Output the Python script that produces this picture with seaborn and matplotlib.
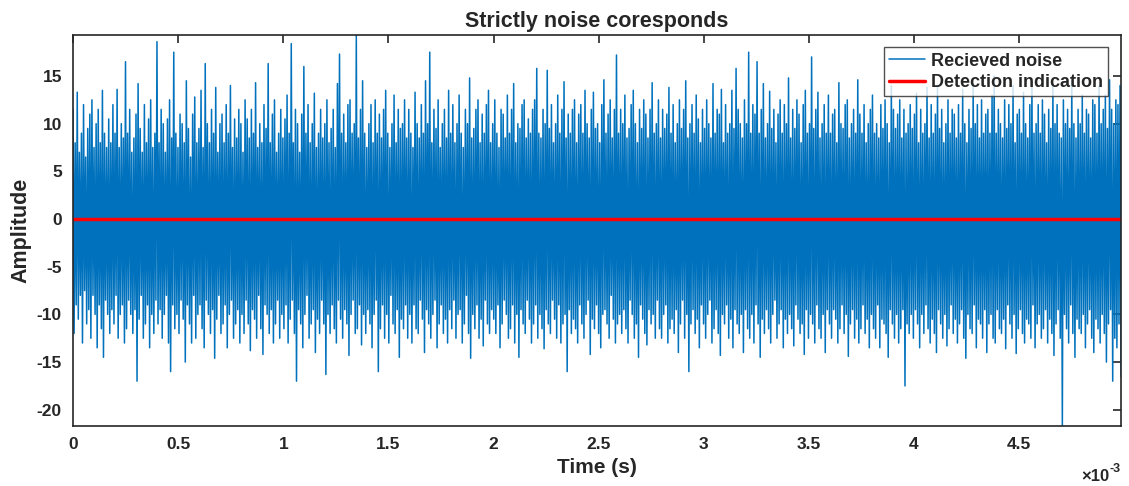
import numpy as np
import pandas as pd
import seaborn as sns
import matplotlib.pyplot as plt
from matplotlib.ticker import MultipleLocator, FuncFormatter

### SIGNAL: upper / lower excursion for each of 500 time slots (0 .. 4.985 ms)
t_end = 4.985e-3
upper = [
    11.5, 8, 13.3, 7, 9, 12, 6.5, 9.5, 11, 12.5, 7.5, 10, 11.5, 8, 13.5, 9, 7.5, 10.5, 8, 12,
    9, 13.6, 7.5, 10, 8.5, 16.5, 9, 11.5, 7, 8.5, 11, 14.2, 9.5, 7, 12, 8, 10.5, 12.5, 7.5, 9,
    18.6, 8, 11.5, 10, 7, 10.5, 12.5, 8.5, 17.5, 9, 7.5, 11, 10, 8, 14.5, 9.5, 6.5, 11, 12.8, 8,
    9.5, 13.5, 7.5, 16.3, 10, 8, 11.5, 9, 13.8, 7, 10, 11, 8, 12, 9, 14, 7.5, 10.5, 8.5, 11.5,
    10, 7, 12.5, 10.5, 8.5, 11.5, 9, 14.3, 7.5, 10, 8, 12, 9.5, 16.3, 8, 11, 12.5, 7, 9, 11.5,
    8.5, 10.5, 13, 9, 18.4, 8, 11.5, 10, 7, 11, 16, 9, 12, 8, 10, 13.2, 7.5, 9, 11.5, 8.5,
    10, 12.5, 8, 9.5, 11.5, 7.5, 14.2, 17.3, 9, 11, 8, 12, 12.5, 9, 10, 19.3, 8.5, 11.5, 14.5, 9,
    7.5, 10, 12, 8, 12.5, 9, 11, 8.5, 11.5, 13.5, 9, 7.5, 10, 13, 8, 11.5, 9.5, 10, 12.5, 8.5,
    11.5, 9, 7.5, 13.3, 10, 8.5, 12, 9, 14.5, 10, 17.5, 8, 11.5, 9.5, 12.5, 7.5, 10, 11.5, 8.5, 13.5,
    9, 12, 8, 10, 13, 9, 7.5, 11.5, 10, 14.8, 8.5, 9.5, 11.5, 12.5, 8, 11, 9, 12, 13.5, 8,
    10, 12.5, 9, 7.5, 11.5, 11, 8.5, 13, 9, 11.5, 14.2, 8, 10, 9.5, 12, 12.5, 8.5, 10.5, 9, 11.5,
    12.5, 15.8, 9, 8.5, 11.5, 10, 15.6, 9.5, 12, 8, 10, 13, 9, 11.5, 14.4, 8.5, 11, 9, 11.5, 12.5,
    8, 11, 12, 9, 13.5, 10, 8.5, 11.5, 13.3, 9.5, 10, 8, 12, 14.6, 9, 11, 12.5, 8.5, 11.5, 17.2,
    9, 11.5, 10, 13, 8.5, 9.5, 12, 13.5, 10, 8, 11.5, 9.5, 12.5, 11, 8.5, 11.5, 14.3, 9, 10, 12.5,
    8.5, 11.5, 9.5, 11, 13.8, 9, 12, 8, 10, 12.5, 9.5, 11.5, 14.5, 8.5, 10, 12, 9, 13, 10.5, 8,
    11.5, 9.5, 12.5, 10, 8.5, 14.2, 9, 11.5, 11, 13.6, 8, 12, 9, 10, 13.5, 9.5, 15.8, 11.5, 10, 8.5,
    12.5, 10, 17.5, 9, 12, 11, 16.5, 9, 11.5, 14.2, 8.5, 10, 13.4, 9.5, 11.5, 8, 11, 12.5, 9, 12,
    10, 14.8, 8.5, 11.5, 9.5, 12.5, 11, 8, 12, 13.5, 9, 10, 17, 9.5, 11.5, 13.3, 8.5, 10, 12, 9,
    13, 9, 11, 11.5, 8, 14.3, 10, 9.5, 12, 12.5, 8.5, 10, 11.5, 9, 14.6, 11, 9, 12, 8, 10,
    11.5, 13, 9, 10, 8.5, 12, 9.5, 12.5, 10, 8, 14, 11.5, 9.5, 11, 12.5, 8.5, 11.5, 9, 10, 12,
    9.5, 11, 13.2, 8, 11.5, 9, 10, 13.8, 8.5, 12, 9, 11, 14, 9.5, 11.5, 8, 10, 12.5, 9, 11.5,
    11, 8.5, 12, 9, 13.6, 10, 8, 11.5, 9.5, 14.2, 10, 12, 8.5, 12.5, 9, 11, 11.5, 9, 13, 15,
    9, 11.5, 10, 8.5, 12.5, 9.5, 12, 10, 14, 8, 11, 11.5, 9, 13.3, 10, 8.5, 12, 14.4, 9, 10,
    12, 9, 12.5, 11, 8, 11.5, 9.5, 14, 10, 12, 9, 8.5, 12.5, 10, 11.5, 9.5, 14.5, 10, 8.5, 11.5,
    10, 13, 9, 11.5, 11, 8.5, 12.5, 12, 9, 14, 10, 11.5, 13, 9.5, 14.6, 11.5, 10, 12.5, 12, 14,
]
lower = [
    -12, -9, -10.5, -8, -13, -7.5, -11, -9.5, -12.5, -8, -10, -13.5, -9, -11.5, -14.5, -8.5, -10, -12, -9.5, -11,
    -8, -12.5, -10, -9, -13, -11.5, -8.5, -10, -12, -9.5, -17, -10.5, -8, -12.5, -11, -9, -13.5, -10, -12, -8.5,
    -11, -9.5, -12.5, -10, -8, -13, -16, -9, -11.5, -10, -12, -8.5, -10.5, -15, -9, -11, -13, -8, -12.5, -10,
    -9, -11.5, -13.5, -8.5, -10, -12, -9.5, -14.6, -10.5, -8, -12, -11, -9, -13.5, -10, -8.5, -12.5, -11, -9.5, -13,
    -10, -12, -8.5, -11, -13.8, -9.5, -10.5, -12.5, -8, -11.5, -14.2, -9, -10, -12, -9.5, -13, -11, -8.5, -12.5, -10,
    -11.5, -9, -13, -10.5, -8.5, -12, -17, -9.5, -11, -13.5, -10, -8, -12.5, -11, -9.5, -14, -10.5, -12, -8.5, -11,
    -16.3, -10, -12, -9, -11.5, -13, -8.5, -10.5, -12.5, -9.5, -11, -14.3, -10, -8.5, -12, -11.5, -9, -13.2, -10, -12,
    -9.5, -11, -13.5, -10, -8.5, -16, -11.5, -9, -12.5, -10, -13, -8, -11, -12, -9.5, -14.5, -10.5, -11.5, -9, -12.5,
    -10, -13, -9, -11.5, -12, -8.5, -10.5, -14, -9.5, -11, -12.5, -10, -8.5, -13.5, -11, -9, -12, -10.5, -13, -9.5,
    -11.5, -8.5, -12.5, -10, -9.5, -13, -11, -8, -12, -14.6, -10, -11.5, -9, -12.5, -10.5, -13.3, -8.5, -11, -12, -9.5,
    -10.5, -12, -9, -13.5, -11, -8.5, -10, -12.5, -11.5, -9, -13, -10, -14.5, -9.5, -11, -12, -8.5, -10.5, -13, -11,
    -9, -12.5, -10, -11.5, -13.6, -9.5, -11, -12, -8.5, -10.5, -12.5, -9, -13, -11, -10, -16, -9.5, -12, -10.5, -11.5,
    -13, -9, -11, -12.5, -10, -8.5, -14.2, -10.5, -11.5, -9, -12, -13.5, -10, -9.5, -11, -12.5, -8, -10.5, -13, -11,
    -10, -12, -9.5, -11.5, -13, -8.5, -10, -12.5, -11, -14.5, -9, -10.5, -12, -13.2, -9.5, -11, -10, -12.5, -8.5, -11.5,
    -12.5, -10, -9, -13, -11.5, -10.5, -12, -9.5, -14, -11, -8.5, -12.5, -10, -16, -11, -9.5, -12, -10.5, -13.5, -9,
    -11, -12.5, -10, -8.5, -13, -11.5, -9.5, -12, -14.3, -10, -11, -9, -12.5, -10.5, -13.5, -9.5, -11, -12, -10, -14,
    -9.5, -11.5, -12.5, -10, -13, -9, -11, -14.5, -10.5, -12, -9.5, -11.5, -13, -10, -8.5, -12.5, -11, -9.5, -13.5, -10.5,
    -12, -10, -11.5, -13.3, -9, -10.5, -12, -11, -14.2, -9.5, -12.5, -10, -11, -13, -9, -11.5, -12.5, -10, -14, -9.5,
    -11, -12.5, -9.5, -10.5, -13, -11.5, -9, -12, -10, -14.4, -11, -9.5, -12.5, -10.5, -13, -11.5, -9, -12, -10.5, -13.5,
    -10, -11.5, -12.5, -9, -13.5, -10.5, -11, -12, -14.5, -9.5, -11, -12.5, -10, -13, -11.5, -9.5, -17.5, -11, -12, -10,
    -12.5, -9.5, -11, -13.5, -10, -12, -9, -11.5, -13, -10.5, -12, -14, -9.5, -11, -12.5, -10, -13.3, -11.5, -9, -12,
    -10.5, -13, -11, -9.5, -12.5, -14.6, -10, -11.5, -12, -9, -13.5, -10.5, -11, -12.5, -9.5, -14, -11, -10, -12.5, -13,
    -9.5, -11.5, -12, -10.5, -13.6, -9, -11, -12.5, -10, -14.1, -11.5, -9.5, -12, -13, -10.5, -11, -12.5, -9, -13.5, -11,
    -10, -12.5, -11.5, -9.5, -13, -10.5, -12, -14.3, -11, -9.5, -12.5, -21.7, -10, -11.5, -13, -9, -12, -14.5, -10.5, -11.5,
    -12, -10, -13.5, -11, -9.5, -12.5, -14, -10.5, -11.5, -13, -10, -12, -15, -11, -9.5, -17, -12.5, -13.5, -11, -16.5,
]

noise = np.column_stack([upper, lower]).ravel()
time = np.linspace(0, t_end, len(noise))
detection = np.zeros(len(noise))

df = pd.DataFrame({'time': time, 'noise': noise, 'detection': detection})

sns.set_theme(style='white')
plt.rcParams['font.family'] = ['Liberation Sans', 'DejaVu Sans']
plt.rcParams['font.weight'] = 'bold'
plt.rcParams['axes.unicode_minus'] = False

fig = plt.figure(figsize=(11.29, 4.86), dpi=100)
ax = fig.add_axes([0.0647, 0.1235, 0.9283, 0.8045])

sns.lineplot(data=df, x='time', y='noise', ax=ax, color='#0072BD', linewidth=1.1,
             estimator=None, label='Recieved noise')
sns.lineplot(data=df, x='time', y='detection', ax=ax, color='red', linewidth=2.5,
             estimator=None, label='Detection indication')

ax.set_xlim(0, t_end)
ax.set_ylim(-21.7, 19.3)
ax.xaxis.set_major_locator(MultipleLocator(0.5e-3))
ax.xaxis.set_major_formatter(FuncFormatter(lambda v, p: f'{v * 1e3:g}'))
ax.yaxis.set_major_locator(MultipleLocator(5))
ax.tick_params(direction='in', length=6, width=1.2, top=True, right=True,
               labelsize=12.5, colors='#262626', pad=8)
for lab in ax.get_xticklabels() + ax.get_yticklabels():
    lab.set_fontweight('bold')
for s in ax.spines.values():
    s.set_color('#262626')
    s.set_linewidth(1.2)

ax.set_xlabel('Time (s)', fontsize=15, fontweight='bold', labelpad=4)
ax.set_ylabel('Amplitude', fontsize=15.5, fontweight='bold', labelpad=4)
ax.set_title('Strictly noise coresponds', fontsize=15.5, fontweight='bold', pad=6)

# MATLAB-style exponent under the right end of the x axis
ax.text(0.9885, -0.14, '\u00d710', transform=ax.transAxes, ha='right', va='baseline',
        fontsize=12, fontweight='bold', color='#262626')
ax.text(1.0, -0.118, '-3', transform=ax.transAxes, ha='right', va='baseline',
        fontsize=9, fontweight='bold', color='#262626')

leg = ax.legend(loc='upper right', bbox_to_anchor=(0.9876, 0.969), borderaxespad=0,
                fontsize=13, frameon=True, fancybox=False, edgecolor='#262626',
                borderpad=0.3, handlelength=2.0, handletextpad=0.3, labelspacing=0.25)
leg.get_frame().set_linewidth(1.0)
for txt in leg.get_texts():
    txt.set_fontweight('bold')

plt.savefig('out.png', dpi=100)
plt.close('all')
